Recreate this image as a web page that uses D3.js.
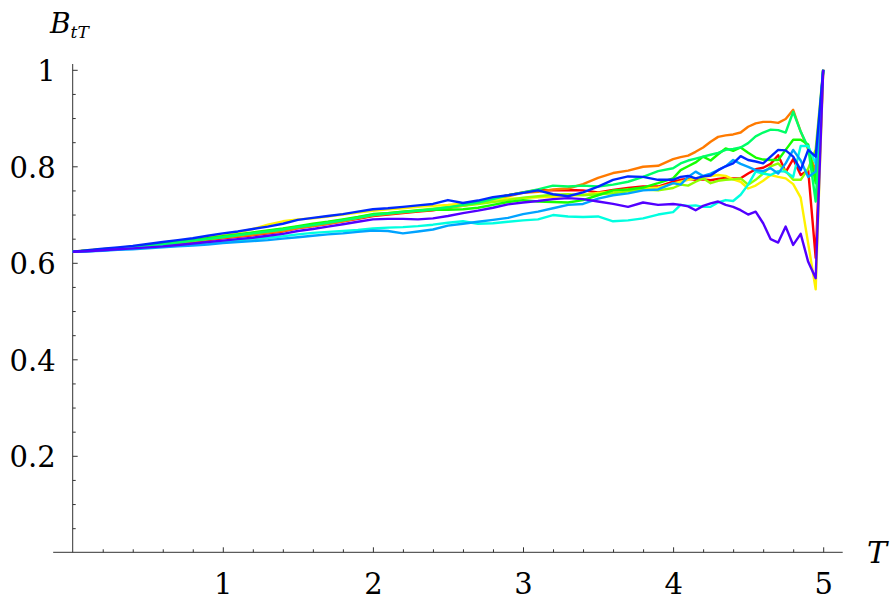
<!DOCTYPE html>
<html>
<head>
<meta charset="utf-8">
<script src="https://cdn.jsdelivr.net/npm/d3@7"></script>
<style>
  body { margin: 0; background: #fff; }
  .axis line { stroke: #333; }
</style>
</head>
<body>
<div id="chart"></div>
<script>
// time grid: 0.1 steps up to 4, then 0.05 steps up to 5
var T = [0, 0.1, 0.2, 0.3, 0.4, 0.5, 0.6, 0.7, 0.8, 0.9, 1.0,
  1.1, 1.2, 1.3, 1.4, 1.5, 1.6, 1.7, 1.8, 1.9, 2.0,
  2.1, 2.2, 2.3, 2.4, 2.5, 2.6, 2.7, 2.8, 2.9, 3.0,
  3.1, 3.2, 3.3, 3.4, 3.5, 3.6, 3.7, 3.8, 3.9, 4.0,
  4.05, 4.1, 4.15, 4.2, 4.25, 4.3, 4.35, 4.4, 4.45, 4.5,
  4.55, 4.6, 4.65, 4.7, 4.75, 4.8, 4.85, 4.9, 4.95, 5.0];

var red = [0.623, 0.625, 0.627, 0.629, 0.631, 0.634, 0.637, 0.640, 0.643, 0.647, 0.651,
  0.654, 0.657, 0.661, 0.665, 0.672, 0.676, 0.681, 0.686, 0.691, 0.697,
  0.700, 0.703, 0.706, 0.709, 0.714, 0.720, 0.726, 0.733, 0.740, 0.746,
  0.751, 0.750, 0.751, 0.750, 0.746, 0.751, 0.755, 0.758, 0.758, 0.768,
  0.772, 0.774, 0.772, 0.773, 0.771, 0.774, 0.776, 0.775, 0.775, 0.785,
  0.794, 0.797, 0.805, 0.823, 0.788, 0.815, 0.782, 0.792, 0.610, 1.0];

var orange = [0.623, 0.625, 0.627, 0.629, 0.632, 0.634, 0.637, 0.640, 0.644, 0.648, 0.652,
  0.655, 0.658, 0.662, 0.666, 0.672, 0.676, 0.681, 0.686, 0.692, 0.698,
  0.701, 0.704, 0.707, 0.710, 0.714, 0.718, 0.724, 0.731, 0.738, 0.745,
  0.747, 0.752, 0.754, 0.763, 0.776, 0.786, 0.791, 0.799, 0.801, 0.815,
  0.819, 0.822, 0.830, 0.839, 0.851, 0.861, 0.864, 0.866, 0.870, 0.882,
  0.889, 0.892, 0.892, 0.890, 0.898, 0.917, 0.872, 0.835, 0.790, 1.0];

var yellow = [0.623, 0.626, 0.628, 0.631, 0.634, 0.637, 0.640, 0.644, 0.648, 0.652, 0.657,
  0.663, 0.670, 0.679, 0.686, 0.690, 0.692, 0.696, 0.700, 0.704, 0.708,
  0.711, 0.713, 0.716, 0.718, 0.720, 0.723, 0.727, 0.731, 0.733, 0.734,
  0.736, 0.737, 0.739, 0.741, 0.745, 0.748, 0.752, 0.754, 0.756, 0.764,
  0.768, 0.772, 0.775, 0.778, 0.780, 0.782, 0.780, 0.773, 0.768, 0.754,
  0.760, 0.770, 0.782, 0.778, 0.775, 0.763, 0.735, 0.640, 0.545, 1.0];

var chartreuse = [0.623, 0.625, 0.628, 0.630, 0.633, 0.636, 0.639, 0.642, 0.646, 0.650, 0.654,
  0.658, 0.662, 0.666, 0.670, 0.675, 0.679, 0.684, 0.689, 0.694, 0.700,
  0.703, 0.706, 0.709, 0.712, 0.715, 0.718, 0.722, 0.726, 0.730, 0.735,
  0.738, 0.741, 0.742, 0.740, 0.742, 0.744, 0.748, 0.752, 0.750, 0.755,
  0.762, 0.760, 0.768, 0.775, 0.765, 0.770, 0.772, 0.773, 0.775, 0.762,
  0.772, 0.785, 0.800, 0.806, 0.790, 0.772, 0.772, 0.795, 0.835, 1.0];

var green = [0.623, 0.625, 0.628, 0.630, 0.633, 0.636, 0.639, 0.643, 0.647, 0.651, 0.655,
  0.659, 0.663, 0.667, 0.671, 0.676, 0.681, 0.685, 0.690, 0.695, 0.701,
  0.703, 0.706, 0.708, 0.710, 0.710, 0.711, 0.714, 0.720, 0.726, 0.730,
  0.727, 0.726, 0.725, 0.730, 0.740, 0.750, 0.752, 0.756, 0.765, 0.775,
  0.792, 0.800, 0.808, 0.820, 0.812, 0.825, 0.837, 0.832, 0.839, 0.828,
  0.818, 0.814, 0.813, 0.813, 0.834, 0.855, 0.855, 0.845, 0.765, 1.0];

var springGreen = [0.623, 0.625, 0.627, 0.630, 0.632, 0.635, 0.638, 0.642, 0.646, 0.649, 0.653,
  0.657, 0.661, 0.665, 0.669, 0.674, 0.678, 0.683, 0.688, 0.693, 0.699,
  0.702, 0.705, 0.708, 0.711, 0.715, 0.720, 0.725, 0.732, 0.740, 0.746,
  0.752, 0.760, 0.758, 0.760, 0.758, 0.762, 0.768, 0.778, 0.790, 0.796,
  0.806, 0.812, 0.816, 0.820, 0.824, 0.828, 0.834, 0.836, 0.839, 0.848,
  0.862, 0.870, 0.876, 0.875, 0.870, 0.913, 0.872, 0.839, 0.727, 1.0];

var cyan = [0.623, 0.624, 0.626, 0.628, 0.630, 0.632, 0.634, 0.636, 0.638, 0.640, 0.643,
  0.646, 0.649, 0.652, 0.655, 0.659, 0.662, 0.664, 0.666, 0.668, 0.671,
  0.673, 0.674, 0.676, 0.679, 0.683, 0.686, 0.681, 0.682, 0.685, 0.688,
  0.690, 0.699, 0.696, 0.695, 0.696, 0.686, 0.688, 0.692, 0.700, 0.705,
  0.720, 0.718, 0.719, 0.716, 0.716, 0.725, 0.730, 0.728, 0.741, 0.762,
  0.789, 0.785, 0.782, 0.790, 0.789, 0.778, 0.842, 0.842, 0.805, 1.0];

var azure = [0.623, 0.624, 0.625, 0.627, 0.628, 0.630, 0.632, 0.634, 0.636, 0.638, 0.641,
  0.643, 0.645, 0.647, 0.650, 0.653, 0.656, 0.659, 0.661, 0.664, 0.667,
  0.666, 0.661, 0.665, 0.669, 0.677, 0.681, 0.685, 0.689, 0.693, 0.701,
  0.706, 0.713, 0.720, 0.722, 0.733, 0.740, 0.744, 0.750, 0.752, 0.765,
  0.762, 0.778, 0.789, 0.780, 0.785, 0.792, 0.800, 0.813, 0.805, 0.799,
  0.792, 0.790, 0.796, 0.785, 0.806, 0.834, 0.812, 0.778, 0.789, 1.0];

var blue = [0.623, 0.626, 0.629, 0.632, 0.635, 0.639, 0.643, 0.647, 0.651, 0.656, 0.661,
  0.665, 0.670, 0.675, 0.681, 0.689, 0.693, 0.697, 0.701, 0.706, 0.711,
  0.713, 0.716, 0.719, 0.722, 0.730, 0.724, 0.729, 0.736, 0.740, 0.745,
  0.750, 0.742, 0.738, 0.746, 0.758, 0.772, 0.779, 0.778, 0.772, 0.772,
  0.778, 0.780, 0.775, 0.779, 0.781, 0.792, 0.800, 0.806, 0.821, 0.813,
  0.810, 0.806, 0.820, 0.834, 0.833, 0.820, 0.792, 0.834, 0.820, 1.0];

var violet = [0.623, 0.624, 0.626, 0.628, 0.630, 0.632, 0.634, 0.637, 0.640, 0.643, 0.646,
  0.649, 0.652, 0.656, 0.660, 0.666, 0.670, 0.675, 0.680, 0.685, 0.690,
  0.691, 0.691, 0.690, 0.692, 0.697, 0.703, 0.708, 0.714, 0.721, 0.725,
  0.728, 0.732, 0.734, 0.732, 0.727, 0.722, 0.716, 0.725, 0.720, 0.722,
  0.720, 0.717, 0.709, 0.718, 0.723, 0.727, 0.720, 0.716, 0.709, 0.700,
  0.706, 0.682, 0.649, 0.642, 0.675, 0.637, 0.660, 0.602, 0.568, 1.0];

var seriesValues = [red, orange, yellow, chartreuse, green, springGreen, cyan, azure, blue, violet];
var seriesColors = ["#ff0000", "#ff7a00", "#fff200", "#8fff00", "#14ff00",
  "#00ff66", "#00ffe0", "#00a3ff", "#0029ff", "#5200ff"];

var xTicks = [1, 2, 3, 4, 5];
var xTickLabels = ["1", "2", "3", "4", "5"];
var yTicks = [0.2, 0.4, 0.6, 0.8, 1];
var yTickLabels = ["0.2", "0.4", "0.6", "0.8", "1"];

var serif = "DejaVu Serif";
var width = 893, height = 603;

var svg = d3.select("#chart").append("svg")
  .attr("width", width)
  .attr("height", height);

var x = d3.scaleLinear().domain([0, 5]).range([72.7, 823.2]);
var y = d3.scaleLinear().domain([0, 1]).range([552.3, 69.8]);

// minor ticks
var xMinor = d3.range(1, 25).map(function (i) { return i * 0.2; })
  .filter(function (d) { return Math.abs(d - Math.round(d)) > 1e-6; });
var yMinor = d3.range(1, 20).map(function (i) { return i * 0.05; })
  .filter(function (d) { return Math.abs(d * 5 - Math.round(d * 5)) > 1e-6; });

var xAxisMinor = d3.axisBottom(x).tickValues(xMinor).tickSize(-3).tickFormat("");
var xAxis = d3.axisBottom(x).tickValues(xTicks).tickSize(-5).tickPadding(21)
  .tickFormat(function (d, i) { return xTickLabels[i]; });
var yAxisMinor = d3.axisLeft(y).tickValues(yMinor).tickSize(-3).tickFormat("");
var yAxis = d3.axisLeft(y).tickValues(yTicks).tickSize(-5).tickPadding(17)
  .tickFormat(function (d, i) { return yTickLabels[i]; });

var gx = svg.append("g").attr("class", "x axis")
  .attr("transform", "translate(0," + y(0) + ")");
gx.call(xAxisMinor);
gx.append("g").call(xAxis);
gx.selectAll(".domain").remove();
gx.append("line")
  .attr("x1", x(-0.13)).attr("x2", x(5.13))
  .attr("y1", 0).attr("y2", 0)
  .attr("stroke", "#333");

var gy = svg.append("g").attr("class", "y axis")
  .attr("transform", "translate(" + x(0) + ",0)");
gy.call(yAxisMinor);
gy.append("g").call(yAxis);
gy.selectAll(".domain").remove();
gy.append("line")
  .attr("x1", 0).attr("x2", 0)
  .attr("y1", y(0)).attr("y2", y(1.012))
  .attr("stroke", "#333");
gy.selectAll("text").attr("dy", "0.37em");

svg.selectAll(".axis text")
  .attr("font-family", serif)
  .attr("font-size", 29)
  .attr("fill", "#000");

var valueline = d3.line()
  .x(function (d, i) { return x(T[i]); })
  .y(function (d) { return y(d); });

svg.append("g").selectAll("path")
  .data(seriesValues)
  .enter().append("path")
  .attr("fill", "none")
  .attr("stroke-width", 2.4)
  .attr("stroke-linejoin", "round")
  .attr("stroke", function (d, i) { return seriesColors[i]; })
  .attr("d", valueline);

// axis titles
var yt = svg.append("text")
  .attr("font-family", serif)
  .attr("font-style", "italic")
  .attr("x", 50).attr("y", 33)
  .attr("font-size", 28)
  .text("B");
yt.append("tspan").attr("dy", 5).attr("font-size", 17).text("tT");

svg.append("text")
  .attr("font-family", serif)
  .attr("font-style", "italic")
  .attr("x", 867).attr("y", 563)
  .attr("font-size", 30)
  .text("T");
</script>
</body>
</html>
